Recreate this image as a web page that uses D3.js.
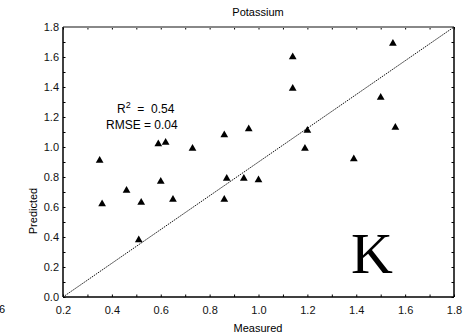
<!DOCTYPE html>
<html>
<head>
<meta charset="utf-8">
<script src="https://cdn.jsdelivr.net/npm/d3@7"></script>
<style>
  body { margin: 0; background: #fff; }
  text { font-family: "Liberation Sans", Arial, sans-serif; }
</style>
</head>
<body>
<div id="chart"></div>
<script>
// measured vs predicted potassium
var measured  = [0.35, 0.59, 0.62, 0.73, 0.86, 1.55, 1.14, 1.14, 1.50, 0.96, 1.20, 1.56,
                 1.19, 1.39, 0.36, 0.46, 0.52, 0.60, 0.65, 0.51, 0.86, 0.87, 0.94, 1.00];
var predicted = [0.91, 1.02, 1.03, 0.99, 1.08, 1.69, 1.60, 1.39, 1.33, 1.12, 1.11, 1.13,
                 0.99, 0.92, 0.62, 0.71, 0.63, 0.77, 0.65, 0.38, 0.65, 0.79, 0.79, 0.78];
var xTicks = [0.2, 0.4, 0.6, 0.8, 1.0, 1.2, 1.4, 1.6, 1.8];
var yTicks = [0.0, 0.2, 0.4, 0.6, 0.8, 1.0, 1.2, 1.4, 1.6, 1.8];
var minorTicks = d3.range(0, 19).map(function(i){ return i / 10; });
var refLine = [[0.2, 0.0], [1.8, 1.8]];

var W = 474, H = 335;
var svg = d3.select('#chart').append('svg').attr('width', W).attr('height', H);

var x = d3.scaleLinear().domain([0.2, 1.8]).range([63, 454]);
var y = d3.scaleLinear().domain([0, 1.8]).range([297, 27]);

var fmt = d3.format('.1f');

// minor ticks, inward on all four sides
var xMinor = minorTicks.filter(function(d){ return d >= 0.2; });
svg.append('g').attr('transform', 'translate(0,297)')
   .call(d3.axisBottom(x).tickValues(xMinor).tickSize(-2.5).tickFormat(''))
   .call(function(g){ g.select('.domain').remove(); });
svg.append('g').attr('transform', 'translate(0,27)')
   .call(d3.axisTop(x).tickValues(xMinor).tickSize(-2.5).tickFormat(''))
   .call(function(g){ g.select('.domain').remove(); });
svg.append('g').attr('transform', 'translate(63,0)')
   .call(d3.axisLeft(y).tickValues(minorTicks).tickSize(-2.5).tickFormat(''))
   .call(function(g){ g.select('.domain').remove(); });
svg.append('g').attr('transform', 'translate(454,0)')
   .call(d3.axisRight(y).tickValues(minorTicks).tickSize(-2.5).tickFormat(''))
   .call(function(g){ g.select('.domain').remove(); });

// labelled axes
var xAxis = svg.append('g').attr('transform', 'translate(0,297)')
   .call(d3.axisBottom(x).tickValues(xTicks).tickSize(0).tickPadding(9).tickFormat(fmt));
xAxis.select('.domain').remove();
xAxis.selectAll('text').attr('font-size', 11).attr('fill', '#111')
     .style('font-family', '"Liberation Sans", Arial, sans-serif');

var yAxis = svg.append('g').attr('transform', 'translate(63,0)')
   .call(d3.axisLeft(y).tickValues(yTicks).tickSize(0).tickPadding(4).tickFormat(fmt));
yAxis.select('.domain').remove();
yAxis.selectAll('text').attr('font-size', 11).attr('fill', '#111')
     .style('font-family', '"Liberation Sans", Arial, sans-serif');

// frame
svg.append('line').attr('x1', x(0.2)).attr('x2', x(1.8)).attr('y1', y(1.8)).attr('y2', y(1.8))
   .attr('stroke', '#888').attr('stroke-width', 2);
svg.append('line').attr('x1', x(0.2)).attr('x2', x(0.2)).attr('y1', y(0)).attr('y2', y(1.8))
   .attr('stroke', '#000').attr('stroke-width', 1.5);
svg.append('line').attr('x1', x(1.8)).attr('x2', x(1.8)).attr('y1', y(0)).attr('y2', y(1.8))
   .attr('stroke', '#000').attr('stroke-width', 1.5);
svg.append('line').attr('x1', x(0.2)).attr('x2', x(1.8)).attr('y1', y(0)).attr('y2', y(0))
   .attr('stroke', '#000').attr('stroke-width', 1.5);

// 1:1 diagonal
svg.append('path').datum(refLine)
   .attr('d', d3.line().x(function(d){ return x(d[0]); }).y(function(d){ return y(d[1]); }))
   .attr('stroke', '#111').attr('stroke-width', 1).attr('stroke-dasharray', '1.5,1')
   .attr('fill', 'none');

// points
var tri = d3.symbol().type(d3.symbolTriangle).size(26);
svg.selectAll('.pt')
   .data(measured)
   .enter()
   .append('path')
     .classed('pt', 1)
     .attr('d', tri)
     .attr('transform', function(d, i){ return 'translate(' + x(d) + ',' + y(predicted[i]) + ')'; })
     .attr('fill', '#000');

// texts
svg.append('text').attr('x', 258).attr('y', 16).attr('text-anchor', 'middle')
   .attr('font-size', 11).text('Potassium');
svg.append('text').attr('x', 258).attr('y', 332).attr('text-anchor', 'middle')
   .attr('font-size', 11).text('Measured');
svg.append('text').attr('transform', 'translate(37,211) rotate(-90)').attr('text-anchor', 'middle')
   .attr('font-size', 11).text('Predicted');

var r2 = svg.append('text').attr('x', 117).attr('y', 113).attr('font-size', 12);
r2.append('tspan').text('R');
r2.append('tspan').attr('dy', -5).attr('font-size', 9).text('2');
r2.append('tspan').attr('dy', 5).text('  =  0.54').attr('xml:space', 'preserve');
svg.append('text').attr('x', 106).attr('y', 129).attr('font-size', 12).text('RMSE = 0.04');

svg.append('text').attr('x', 351).attr('y', 273).attr('font-size', 58)
   .style('font-family', '"Liberation Serif", "Times New Roman", serif').text('K');

// label of the neighbouring panel, clipped at the left edge in the original
svg.append('text').attr('x', -1).attr('y', 313).attr('font-size', 11).text('6');
</script>
</body>
</html>
